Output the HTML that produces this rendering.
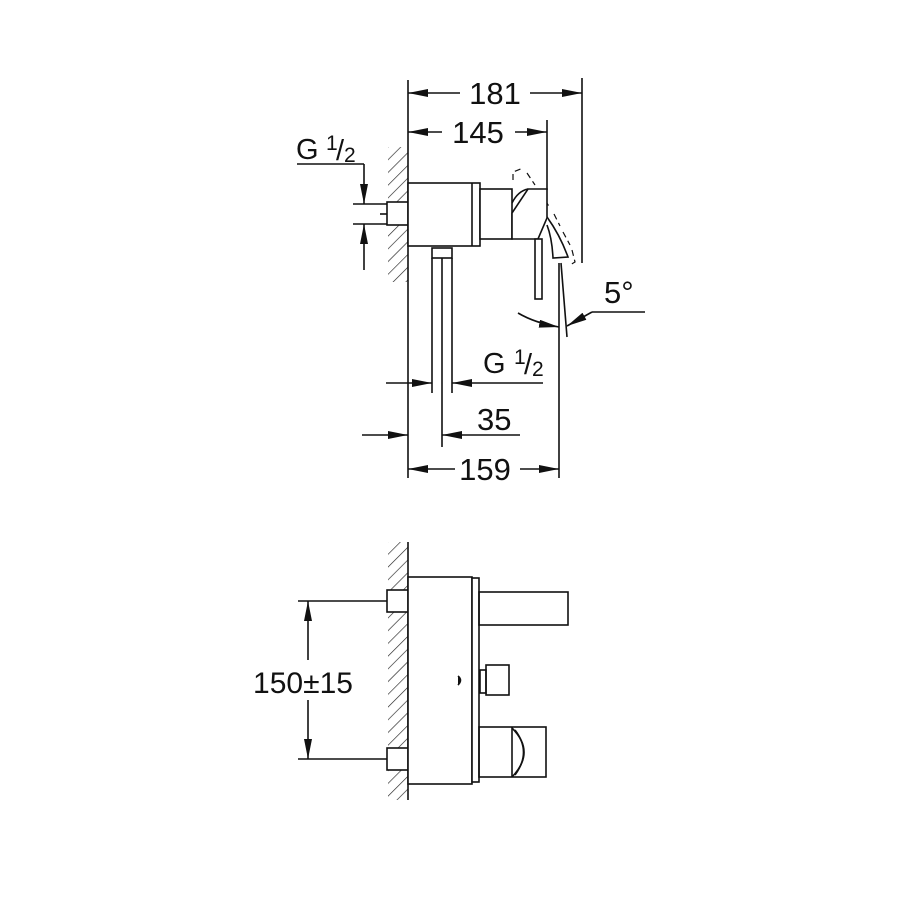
<!DOCTYPE html>
<html><head><style>html,body{margin:0;padding:0;background:#fff}svg{display:block}text{font-family:"Liberation Sans",Arial,sans-serif;fill:#111}</style></head>
<body>
<svg width="900" height="900" viewBox="0 0 900 900" xmlns="http://www.w3.org/2000/svg">
<defs>
<pattern id="h" width="9" height="9" patternUnits="userSpaceOnUse" patternTransform="rotate(45)">
<line x1="0" y1="0" x2="0" y2="9" stroke="#222" stroke-width="1.3"/>
</pattern>
<marker id="a" viewBox="0 0 20 8" refX="20" refY="4" markerWidth="20" markerHeight="8" markerUnits="userSpaceOnUse" orient="auto">
<path d="M0,0 L20,4 L0,8 z" fill="#111"/>
</marker>
</defs>
<g stroke="#111" fill="none" stroke-width="1.6">
<!-- top view wall -->
<rect x="388" y="147" width="20" height="135" fill="url(#h)" stroke="none"/>
<line x1="408" y1="80" x2="408" y2="478"/>
<!-- 181 -->
<line x1="582" y1="78" x2="582" y2="263"/>
<line x1="460" y1="93" x2="408" y2="93" marker-end="url(#a)"/>
<line x1="530" y1="93" x2="582" y2="93" marker-end="url(#a)"/>
<!-- 145 -->
<line x1="547" y1="120" x2="547" y2="190"/>
<line x1="442" y1="132" x2="408" y2="132" marker-end="url(#a)"/>
<line x1="515" y1="132" x2="547" y2="132" marker-end="url(#a)"/>
<!-- G1/2 top -->
<line x1="297" y1="164" x2="364" y2="164"/>
<line x1="364" y1="164" x2="364" y2="204" marker-end="url(#a)"/>
<line x1="364" y1="270" x2="364" y2="224" marker-end="url(#a)"/>
<line x1="353" y1="204" x2="387" y2="204"/>
<line x1="353" y1="224" x2="387" y2="224"/>
<line x1="380" y1="214" x2="388" y2="214"/>
<rect x="387" y="202" width="21" height="23" fill="#fff"/>
<!-- body -->
<rect x="408" y="183" width="72" height="63" fill="#fff"/>
<line x1="472" y1="183" x2="472" y2="246"/>
<rect x="480" y="189" width="32" height="50" fill="#fff"/>
<path d="M513,180 L513,172 L523,168 M527,173 L535,185 M540,192 L550,208 M554,214 L560,226 M563,232 L570,245 M572,250 L575,262 L570,265 M540,226 L533,233 L524,227 M517,224 L516,218" stroke-dasharray="6,4" stroke-width="1.2"/>
<path d="M512,239 L512,213 L528,189 L547,189 L547,218 L538,239 Z" fill="#fff"/>
<path d="M512,203 Q518,191 528,189"/>
<path d="M547,217 Q560,235 568,257 L553,258 Q552,238 547,225" fill="#fff"/>
<rect x="535" y="239" width="7" height="60" fill="#fff"/>
<!-- outlet -->
<rect x="432" y="248" width="20" height="10"/>
<line x1="432" y1="258" x2="432" y2="393"/>
<line x1="452" y1="258" x2="452" y2="393"/>
<line x1="442" y1="258" x2="442" y2="447"/>
<!-- angle -->
<line x1="559" y1="263" x2="559" y2="478"/>
<line x1="561" y1="263" x2="567" y2="337"/>
<path d="M518,313 Q535,323 559,327" marker-end="url(#a)"/>
<line x1="645" y1="312" x2="592" y2="312"/>
<line x1="592" y1="312" x2="567" y2="326" marker-end="url(#a)"/>
<!-- G1/2 bottom -->
<line x1="386" y1="383" x2="432" y2="383" marker-end="url(#a)"/>
<line x1="543" y1="383" x2="452" y2="383" marker-end="url(#a)"/>
<!-- 35 -->
<line x1="362" y1="435" x2="408" y2="435" marker-end="url(#a)"/>
<line x1="520" y1="435" x2="442" y2="435" marker-end="url(#a)"/>
<!-- 159 -->
<line x1="455" y1="469" x2="408" y2="469" marker-end="url(#a)"/>
<line x1="520" y1="469" x2="559" y2="469" marker-end="url(#a)"/>

<!-- bottom view -->
<rect x="388" y="542" width="20" height="258" fill="url(#h)" stroke="none"/>
<line x1="408" y1="542" x2="408" y2="800"/>
<rect x="387" y="590" width="21" height="22" fill="#fff"/>
<rect x="387" y="748" width="21" height="22" fill="#fff"/>
<rect x="408" y="577" width="64" height="207" fill="#fff"/>
<rect x="472" y="578" width="7" height="204" fill="#fff"/>
<rect x="479" y="592" width="89" height="33"/>
<rect x="480" y="670" width="6" height="23"/>
<rect x="486" y="665" width="23" height="30"/>
<path d="M458,676 Q463,680 458,685" fill="#111"/>
<rect x="479" y="727" width="67" height="50"/>
<line x1="512" y1="727" x2="512" y2="777"/>
<path d="M512,728 Q536,752 512,777"/>
<path d="M515,730 Q532,752 515,775"/>
<line x1="298" y1="601" x2="387" y2="601"/>
<line x1="298" y1="759" x2="387" y2="759"/>
<line x1="308" y1="660" x2="308" y2="601" marker-end="url(#a)"/>
<line x1="308" y1="700" x2="308" y2="759" marker-end="url(#a)"/>
</g>
<g font-size="31">
<text x="495" y="104" text-anchor="middle">181</text>
<text x="478" y="143" text-anchor="middle">145</text>
<text x="485" y="480" text-anchor="middle">159</text>
<text x="477" y="430">35</text>
<text x="604" y="303">5°</text>
<text x="303" y="693" text-anchor="middle" font-size="30">150±15</text>
</g>
<g font-size="29">
<text x="296" y="159">G</text>
<text x="326" y="150" font-size="21">1</text>
<text x="336" y="160">/</text>
<text x="344" y="162" font-size="21">2</text>
<text x="483" y="373">G</text>
<text x="514" y="364" font-size="21">1</text>
<text x="524" y="374">/</text>
<text x="532" y="376" font-size="21">2</text>
</g>
</svg>
</body></html>
